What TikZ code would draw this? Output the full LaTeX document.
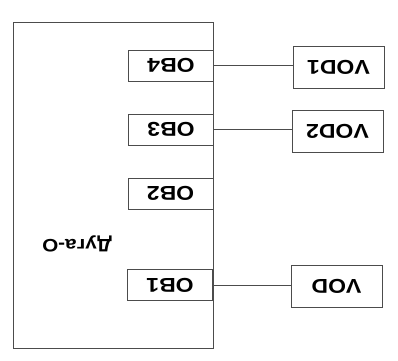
\documentclass[tikz,border=0pt]{standalone}
\usepackage{fontspec}
\setmainfont{Liberation Sans}[FakeStretch=1.15]
\begin{document}
\begin{tikzpicture}[x=1pt,y=-1pt,
  ln/.style={draw=black!70,line width=0.9pt},
  box/.style={ln,rectangle,inner sep=0pt,font=\fontsize{20}{20}\selectfont\bfseries,rotate=180},
  obbox/.style={box,minimum width=85pt,minimum height=31pt},
  vodbox/.style={box,minimum width=91pt,minimum height=42pt}]
\useasboundingbox (0,0) rectangle (398,360);
\node[ln,rectangle,inner sep=0pt,minimum width=200pt,minimum height=326pt] (main) at (113,185) {};
\node[rotate=180,font=\fontsize{18}{18}\selectfont\bfseries] (lbl) at (77,244) {Дуга-О};
\node[obbox] (ob4) at (171,65.5) {OB4};
\node[obbox] (ob3) at (171,129.5) {OB3};
\node[obbox] (ob2) at (170.5,193.5) {OB2};
\node[obbox] (ob1) at (170,285) {OB1};
\node[vodbox] (vod1) at (338.5,67) {VOD1};
\node[vodbox] (vod2) at (337.5,131) {VOD2};
\node[vodbox] (vod) at (336.5,286) {VOD};
\draw[ln] (ob4.west) -- (ob4.west -| vod1.east);
\draw[ln] (ob3.west) -- (ob3.west -| vod2.east);
\draw[ln] (ob1.west) -- (ob1.west -| vod.east);
\end{tikzpicture}
\end{document}
